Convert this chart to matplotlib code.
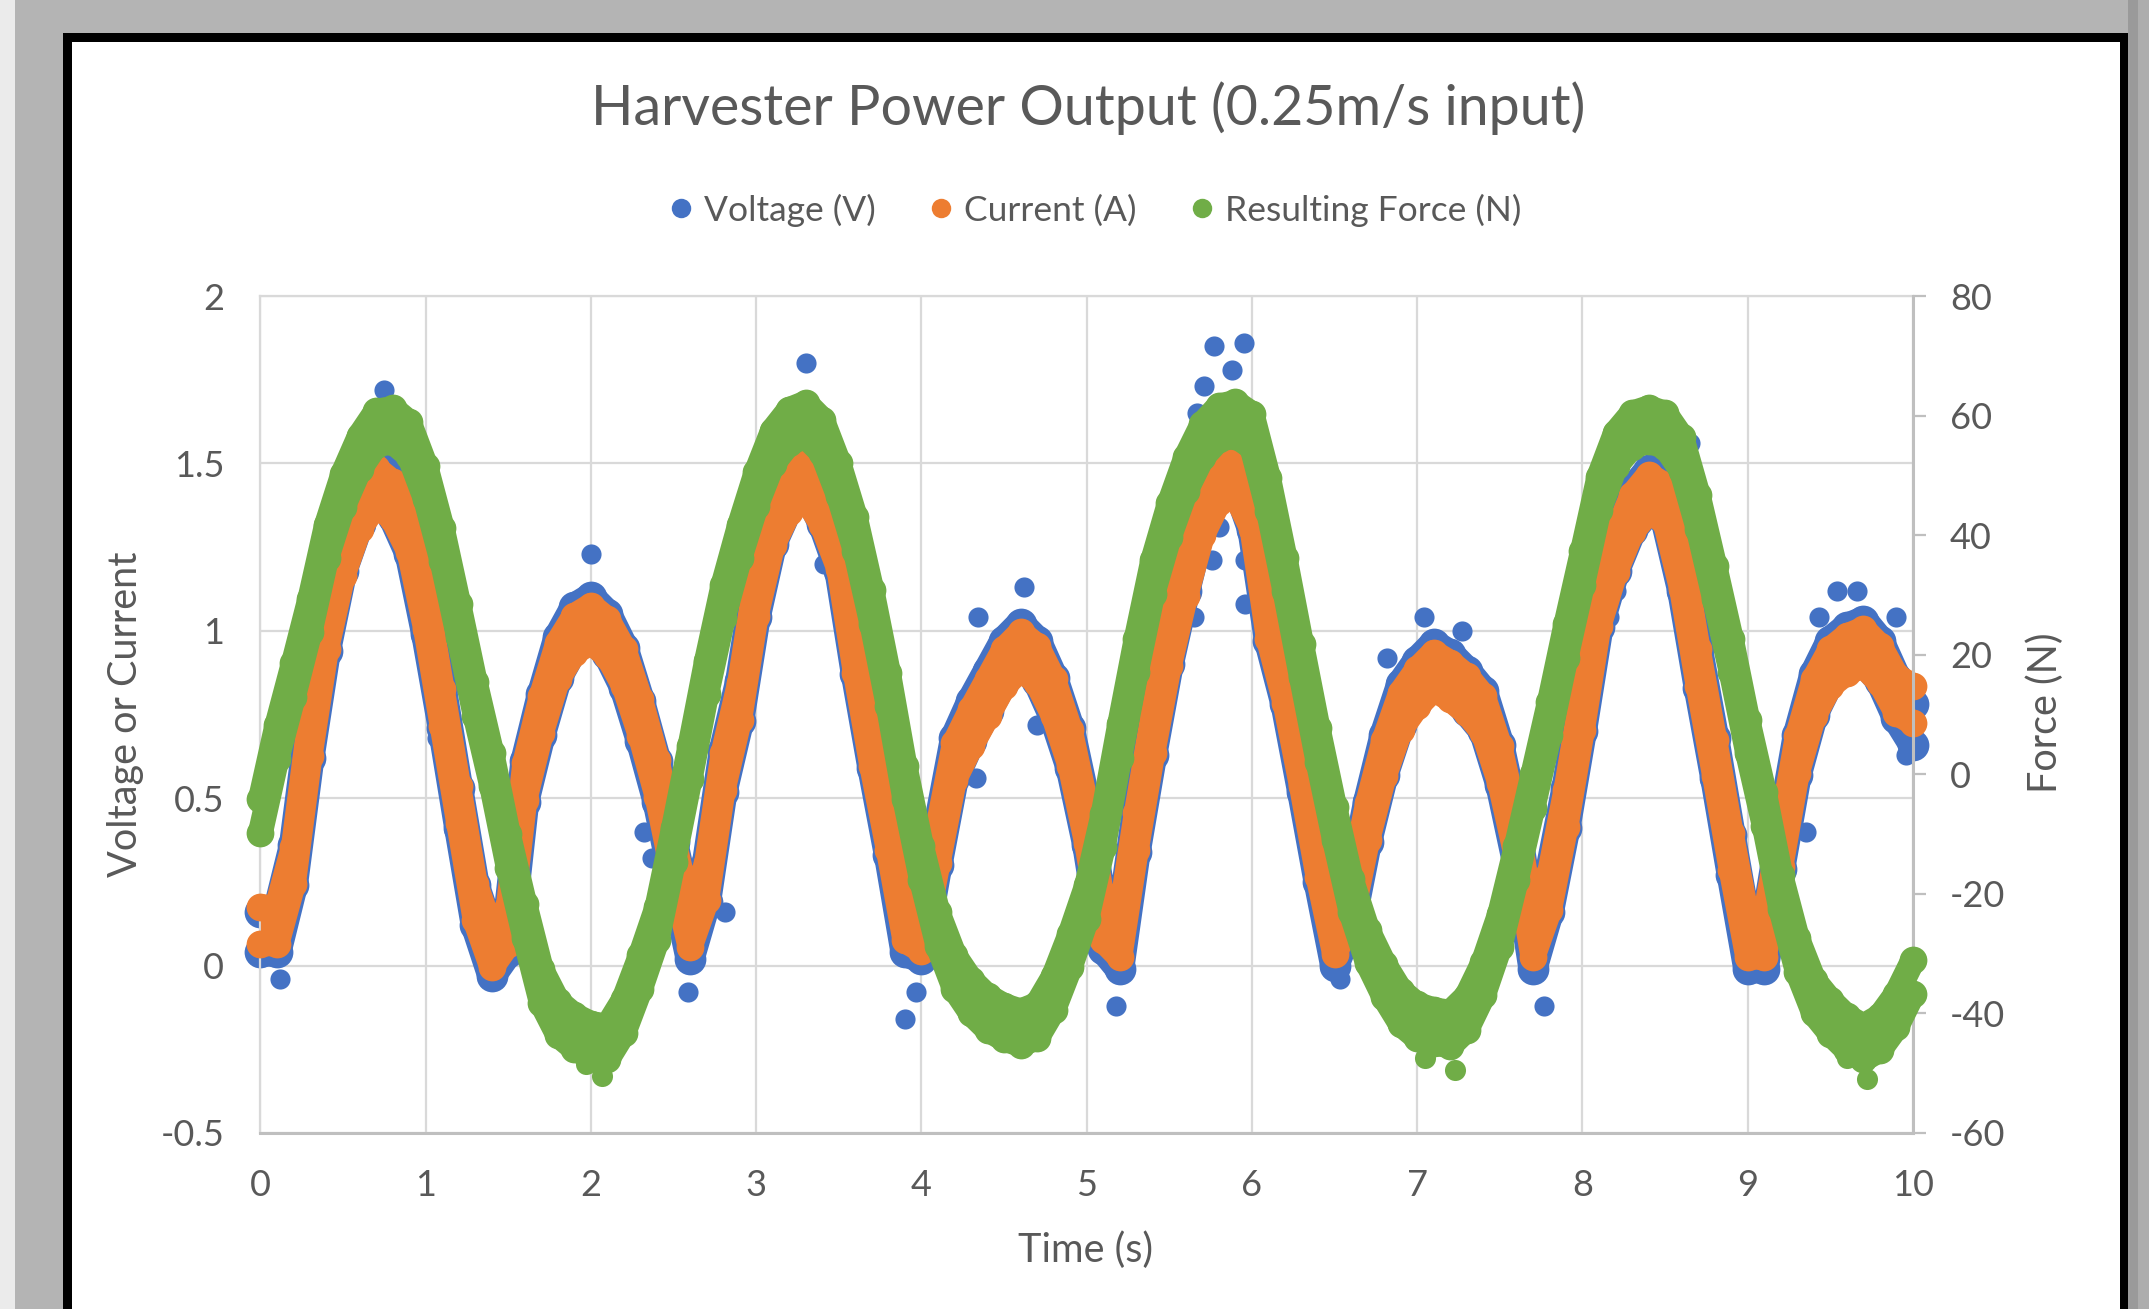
import numpy as np
import matplotlib
matplotlib.use("Agg")
import matplotlib.pyplot as plt
from matplotlib.lines import Line2D
from matplotlib.patches import Rectangle

plt.rcParams['font.family'] = ['Lato', 'DejaVu Sans']
plt.rcParams['axes.unicode_minus'] = False

# sample times (s), one reading every 0.1 s
time_s = np.linspace(0, 10, 101)

# centre of each point cloud
voltage = [
    0.10, 0.10, 0.30, 0.68, 1.00, 1.24, 1.38, 1.46, 1.40, 1.29,
    1.05, 0.77, 0.47, 0.18, 0.03, 0.10, 0.55, 0.75, 0.92, 1.01,
    1.04, 0.99, 0.89, 0.73, 0.55, 0.31, 0.08, 0.25, 0.58, 0.79,
    1.10, 1.32, 1.43, 1.48, 1.38, 1.24, 0.93, 0.65, 0.39, 0.10,
    0.08, 0.36, 0.62, 0.73, 0.82, 0.91, 0.96, 0.91, 0.80, 0.65,
    0.42, 0.11, 0.05, 0.40, 0.69, 0.96, 1.18, 1.38, 1.50, 1.50,
    1.36, 1.03, 0.84, 0.58, 0.31, 0.06, 0.18, 0.43, 0.63, 0.78,
    0.85, 0.90, 0.87, 0.82, 0.76, 0.60, 0.37, 0.05, 0.22, 0.47,
    0.76, 1.07, 1.24, 1.36, 1.42, 1.39, 1.18, 0.89, 0.62, 0.33,
    0.05, 0.05, 0.35, 0.63, 0.81, 0.91, 0.95, 0.97, 0.91, 0.80,
    0.72]

current = [
    0.12, 0.12, 0.30, 0.68, 1.00, 1.22, 1.36, 1.43, 1.39, 1.29,
    1.06, 0.77, 0.48, 0.19, 0.05, 0.12, 0.55, 0.75, 0.91, 0.99,
    1.02, 0.98, 0.89, 0.74, 0.56, 0.32, 0.11, 0.25, 0.58, 0.79,
    1.10, 1.31, 1.41, 1.45, 1.37, 1.24, 0.93, 0.65, 0.40, 0.13,
    0.10, 0.36, 0.61, 0.71, 0.80, 0.89, 0.94, 0.90, 0.80, 0.65,
    0.42, 0.13, 0.08, 0.40, 0.69, 0.95, 1.16, 1.34, 1.44, 1.46,
    1.36, 1.03, 0.84, 0.59, 0.32, 0.09, 0.19, 0.43, 0.62, 0.76,
    0.83, 0.88, 0.85, 0.81, 0.75, 0.60, 0.38, 0.08, 0.22, 0.47,
    0.76, 1.07, 1.23, 1.35, 1.41, 1.38, 1.18, 0.89, 0.62, 0.34,
    0.08, 0.08, 0.35, 0.63, 0.80, 0.89, 0.93, 0.95, 0.90, 0.81,
    0.78]

force = [
    -7.0, 5.4, 15.8, 26.6, 38.9, 47.5, 53.8, 57.9, 58.4, 56.1,
    48.8, 38.4, 25.7, 12.6, 0.8, -12.8, -24.5, -35.4, -40.8, -43.1,
    -44.5, -44.9, -40.4, -33.1, -25.0, -11.8, 2.0, 16.2, 28.9, 38.9,
    47.7, 54.7, 58.2, 59.3, 56.5, 49.3, 40.2, 28.0, 14.2, -1.4,
    -14.8, -25.9, -33.1, -37.2, -39.9, -41.5, -42.4, -41.3, -36.6, -29.5,
    -21.4, -9.4, 5.6, 19.9, 33.0, 42.5, 50.2, 55.8, 58.8, 59.4,
    57.5, 46.8, 33.4, 19.0, 4.9, -8.2, -20.3, -28.8, -34.5, -39.0,
    -41.3, -42.2, -42.6, -39.9, -34.2, -26.1, -14.8, -2.8, 9.3, 22.3,
    34.5, 47.0, 54.3, 57.6, 58.5, 57.6, 53.6, 43.9, 32.1, 19.9,
    6.3, -5.8, -19.7, -30.2, -37.2, -40.6, -43.3, -44.9, -43.3, -39.5,
    -33.9]

# stray voltage readings outside the main cloud
volt_out_t = [0.75, 0.12, 0.88, 2.00, 3.30, 3.41, 3.90, 3.97, 2.59, 2.32,
              2.37, 2.81, 4.34, 4.62, 4.33, 4.70, 5.18, 5.77, 5.95, 5.88,
              5.71, 5.67, 5.96, 5.96, 5.76, 5.80, 5.65, 6.82, 7.04, 7.27,
              7.77, 6.53, 9.54, 9.66, 9.90, 9.43, 9.35, 8.20, 8.16, 8.65,
              9.96, 1.07]
volt_out_v = [1.72, -0.04, 1.24, 1.23, 1.80, 1.20, -0.16, -0.08, -0.08, 0.40,
              0.32, 0.16, 1.04, 1.13, 0.56, 0.72, -0.12, 1.85, 1.86, 1.78,
              1.73, 1.65, 1.08, 1.21, 1.21, 1.31, 1.04, 0.92, 1.04, 1.00,
              -0.12, -0.04, 1.12, 1.12, 1.04, 1.04, 0.40, 1.12, 1.04, 1.56,
              0.63, 0.68]

# stray force readings
force_out_t = [2.07, 1.97, 7.23, 7.05, 9.72, 9.60, 0.00]
force_out_f = [-50.5, -48.5, -49.5, -47.5, -51.0, -47.5, -10.0]

series_names = ['Voltage (V)', 'Current (A)', 'Resulting Force (N)']
blue = '#4472C4'
orange = '#ED7D31'
green = '#70AD47'
grey_text = '#595959'

W, H = 2149, 1309
fig = plt.figure(figsize=(W / 100, H / 100), dpi=100)
fig.patch.set_facecolor('#b4b4b4')


def box(x0, y0, x1, y1, color):
    # pixel box (top-left origin) -> figure fraction rectangle
    fig.add_artist(Rectangle((x0 / W, 1 - y1 / H), (x1 - x0) / W, (y1 - y0) / H,
                             transform=fig.transFigure, color=color, lw=0, zorder=-10))


box(0, 0, 15, H, '#ebebeb')
box(63, 33, 2128, H, 'black')
box(72, 42, 2120, H, 'white')
box(2128, 0, 2138, H, '#9a9a9a')
box(2138, 0, 2149, H, '#adadad')

ax = fig.add_axes([260.4 / W, 1 - 1133 / H, (1913 - 260.4) / W, (1133 - 296) / H])
ax.set_xlim(0, 10)
ax.set_ylim(-0.5, 2)
ax.set_xticks(range(0, 11))
ax.set_yticks([-0.5, 0, 0.5, 1, 1.5, 2])
ax.set_yticklabels(['-0.5', '0', '0.5', '1', '1.5', '2'])
ax.grid(True, color='#d9d9d9', lw=1.6)
ax.set_axisbelow(True)
for s in ['top', 'left']:
    ax.spines[s].set_color('#d9d9d9')
    ax.spines[s].set_linewidth(1.6)
ax.spines['right'].set_visible(False)
ax.spines['bottom'].set_color('#bfbfbf')
ax.spines['bottom'].set_linewidth(2.2)
ax.tick_params(axis='both', length=0, labelsize=26, labelcolor=grey_text)
ax.tick_params(axis='x', pad=26)
ax.tick_params(axis='y', pad=26)


def cloud(axis, t, y, spread, width_px, color, z):
    y = np.asarray(y)
    lw = width_px * 72 / 100
    axis.fill_between(t, y - spread, y + spread, color=color, lw=0, zorder=z, clip_on=False)
    for edge in (y - spread, y + spread):
        axis.plot(t, edge, color=color, lw=lw, solid_capstyle='round',
                  solid_joinstyle='round', zorder=z, clip_on=False)
        axis.scatter(t, edge, s=(lw + 2) ** 2, color=color, lw=0, zorder=z, clip_on=False)


cloud(ax, time_s, voltage, 0.06, 29, blue, 2)
ax.scatter(volt_out_t, volt_out_v, s=210, color=blue, lw=0, zorder=2, clip_on=False)
cloud(ax, time_s, current, 0.055, 25, orange, 3)

ax2 = ax.twinx()
ax2.set_ylim(-60, 80)
ax2.set_yticks(range(-60, 81, 20))
for s in ['top', 'left', 'bottom']:
    ax2.spines[s].set_visible(False)
ax2.spines['right'].set_color('#bfbfbf')
ax2.spines['right'].set_linewidth(2.2)
ax2.tick_params(axis='y', length=9.5, width=1.6, color='#bfbfbf', direction='out',
                labelsize=26, labelcolor=grey_text, pad=17)
cloud(ax2, time_s, force, 2.8, 25, green, 4)
ax2.scatter(force_out_t, force_out_f, s=230, color=green, lw=0, zorder=4, clip_on=False)

fig.text(1088 / W, 1 - 108 / H, 'Harvester Power Output (0.25m/s input)',
         ha='center', va='center', fontsize=40, color=grey_text)
fig.text(126 / W, 1 - 714 / H, 'Voltage or Current', rotation=90,
         ha='center', va='center', fontsize=28.5, color=grey_text)
fig.text(2045 / W, 1 - 713 / H, 'Force (N)', rotation=90,
         ha='center', va='center', fontsize=28.5, color=grey_text)
fig.text(1086 / W, 1 - 1250 / H, 'Time (s)',
         ha='center', va='center', fontsize=28.5, color=grey_text)

handles = [Line2D([], [], ls='', marker='o', markersize=14, color=c, mec='none')
           for c in (blue, orange, green)]
fig.legend(handles, series_names, loc='center', bbox_to_anchor=(1094 / W, 1 - 210 / H),
           ncol=3, frameon=False, fontsize=25.5, labelcolor=grey_text,
           handlelength=0.8, handletextpad=0.25, columnspacing=1.45)

fig.savefig('out.png', dpi=100, facecolor=fig.get_facecolor())
